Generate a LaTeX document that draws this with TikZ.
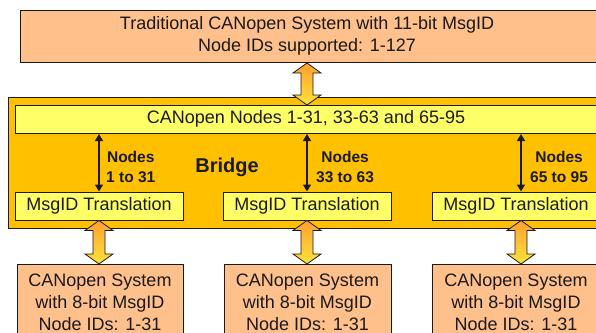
\documentclass[tikz,border=0pt]{standalone}
\usepackage{fontspec}
\setmainfont{Liberation Sans}
\usetikzlibrary{arrows.meta,calc}

\definecolor{peach}{HTML}{FFC08C}
\definecolor{gold}{HTML}{FFC000}
\definecolor{lemon}{HTML}{FFFF66}
\definecolor{ink}{HTML}{1A1A1A}
\definecolor{fatorange}{HTML}{FFA030}
\definecolor{fatyellow}{HTML}{FFFF40}

\tikzset{
  sysbox/.style={draw=ink, fill=peach, line width=1pt, inner sep=0pt},
  barbox/.style={draw=ink, fill=lemon, line width=1pt, inner sep=0pt},
  plain/.style={font=\fontsize{18}{22}\selectfont, align=center, text=ink, inner sep=0pt},
  bold/.style={font=\bfseries\fontsize{15.5}{20}\selectfont, align=center, text=ink, inner sep=0pt},
  link/.style={{Triangle[width=8pt,length=7pt]}-{Triangle[width=8pt,length=7pt]}, line width=1.5pt, draw=ink},
  fat/.style={draw=ink, line width=0.8pt, top color=fatorange, middle color=fatyellow, bottom color=fatyellow!70!fatorange}
}

% fat double arrow between two points (top first)
\newcommand\fatlink[2]{%
  \path[fat] let \p1=(#1), \p2=(#2) in
    (\x1-6pt,\y1-10pt) -- (\x1-14pt,\y1-10pt) -- (\x1,\y1) -- (\x1+14pt,\y1-10pt) -- (\x1+6pt,\y1-10pt)
    -- (\x1+6pt,\y2+10pt) -- (\x1+14pt,\y2+10pt) -- (\x1,\y2) -- (\x1-14pt,\y2+10pt) -- (\x1-6pt,\y2+10pt) -- cycle;}

\begin{document}
\begin{tikzpicture}[x=1pt, y=-1pt]
  \useasboundingbox (0,0) rectangle (596,332);
  \clip (0,0) rectangle (596,332);

  \coordinate (colA) at (99,0);
  \coordinate (colB) at (307,0);
  \coordinate (colC) at (521,0);

  % traditional system
  \node[sysbox, anchor=north west, minimum width=600pt, minimum height=52pt] (tradbox) at (20,10) {};
  \node[plain] (trad) at (307,36) {Traditional CANopen System with 11-bit MsgID\\Node IDs supported: 1-127};

  % bridge
  \node[draw=ink, fill=gold, line width=1pt, anchor=north west, minimum width=600pt, minimum height=131pt] (bridge) at (8,97) {};
  \node[font=\bfseries\fontsize{20}{24}\selectfont, text=ink, inner sep=0pt] (bridgelbl) at (227,167) {Bridge};
  \node[barbox, anchor=north west, minimum width=600pt, minimum height=28pt] (bar) at (15,105) {};
  \node[plain] (bartxt) at (306,119) {CANopen Nodes 1-31, 33-63 and 65-95};

  \node[barbox, plain, minimum width=168pt, minimum height=28pt] (tr1) at (99,206) {MsgID Translation};
  \node[barbox, plain, minimum width=168pt, minimum height=28pt] (tr2) at (307,206) {MsgID Translation};
  \node[barbox, plain, minimum width=168pt, minimum height=28pt] (tr3) at (516,206) {MsgID Translation};

  \draw[link] (bar.south -| colA) -- (tr1.north -| colA);
  \draw[link] (bar.south -| colB) -- (tr2.north -| colB);
  \draw[link] (bar.south -| colC) -- (tr3.north -| colC);
  \node[bold, anchor=west] (lblA) at (106,167) {Nodes\\1 to 31};
  \node[bold, anchor=west] (lblB) at (316,167) {Nodes\\33 to 63};
  \node[bold, anchor=west] (lblC) at (530,167) {Nodes\\65 to 95};

  % 8-bit systems
  \node[sysbox, plain, anchor=north, minimum width=166pt, minimum height=75pt] (sys1) at (100,264) {CANopen System\\with 8-bit MsgID\\Node IDs: 1-31};
  \node[sysbox, plain, anchor=north, minimum width=167pt, minimum height=75pt] (sys2) at (307.5,264) {CANopen System\\with 8-bit MsgID\\Node IDs: 1-31};
  \node[sysbox, plain, anchor=north, minimum width=167pt, minimum height=75pt] (sys3) at (516,264) {CANopen System\\with 8-bit MsgID\\Node IDs: 1-31};

  \fatlink{tradbox.south -| colB}{bar.north -| colB}
  \fatlink{tr1.south -| colA}{sys1.north -| colA}
  \fatlink{tr2.south -| colB}{sys2.north -| colB}
  \fatlink{tr3.south -| colC}{sys3.north -| colC}
\end{tikzpicture}
\end{document}
